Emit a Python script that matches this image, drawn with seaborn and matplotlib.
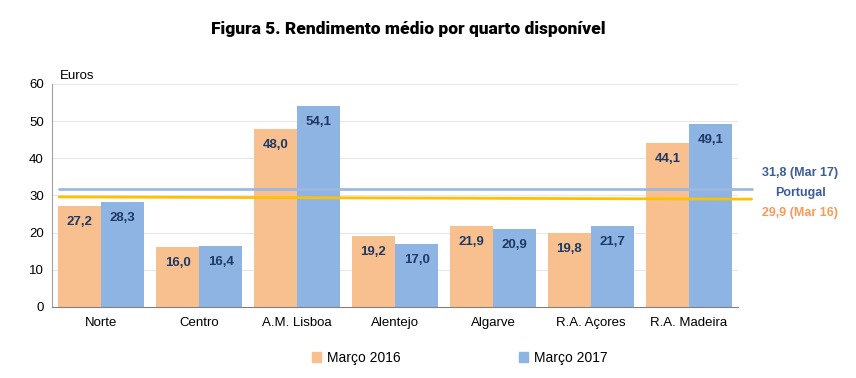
import pandas as pd
import matplotlib
matplotlib.use("Agg")
import matplotlib.pyplot as plt
import seaborn as sns

# dados
regioes = ["Norte", "Centro", "A.M. Lisboa", "Alentejo", "Algarve", "R.A. Açores", "R.A. Madeira"]
marco_2016 = [27.2, 16.0, 48.0, 19.2, 21.9, 19.8, 44.1]
marco_2017 = [28.3, 16.4, 54.1, 17.0, 20.9, 21.7, 49.1]
series = ["Março 2016", "Março 2017"]
portugal_2017 = 31.8
portugal_2016 = [29.6, 29.0]  # linha ligeiramente inclinada no original
yticks = [0, 10, 20, 30, 40, 50, 60]

df = pd.DataFrame({
    "regiao": regioes * 2,
    "serie": [series[0]] * len(regioes) + [series[1]] * len(regioes),
    "valor": marco_2016 + marco_2017,
})

sns.set_style("white")
plt.rcParams["font.family"] = ["Liberation Sans", "DejaVu Sans"]
plt.rcParams["text.color"] = "black"
plt.rcParams["xtick.color"] = "black"
plt.rcParams["ytick.color"] = "black"

cor_laranja = "#F9C08F"
cor_azul = "#8EB4E3"
cor_texto = "#1F3864"

fig = plt.figure(figsize=(8.56, 3.78), dpi=100)
ax = fig.add_axes([0.061, 0.188, 0.801, 0.590])

sns.barplot(data=df, x="regiao", y="valor", hue="serie", palette=[cor_laranja, cor_azul],
            width=0.88, gap=0, ax=ax, legend=False, saturation=1, linewidth=0, edgecolor="none")

for cont in ax.containers:
    for bar in cont:
        h = bar.get_height()
        ax.text(bar.get_x() + bar.get_width() / 2, h - 4.3, f"{h:.1f}".replace(".", ","),
                ha="center", va="center", fontsize=9.5, fontweight="bold", color=cor_texto)

ax.set_ylim(0, 60)
ax.set_xlim(-0.5, len(regioes) - 0.5)
ax.set_yticks(yticks)
ax.yaxis.grid(True, color="#E8E8E8", linewidth=0.8)
ax.set_axisbelow(True)
for s in ["top", "right"]:
    ax.spines[s].set_visible(False)
ax.spines["left"].set_color("#A0A0A0")
ax.spines["bottom"].set_color("#808080")
ax.tick_params(axis="y", length=3, color="#A0A0A0", labelsize=9.5, pad=3)
ax.tick_params(axis="x", length=0, labelsize=9.5, pad=7)
ax.set_xlabel("")
ax.set_ylabel("")

# linhas de Portugal (estendem para fora da área)
x0, x1 = -0.43, len(regioes) - 0.5 + 0.14
ax.plot([x0, x1], [portugal_2017, portugal_2017], color="#9DB9E0", linewidth=2, clip_on=False, zorder=3)
ax.plot([x0, x1], portugal_2016, color="#FFC000", linewidth=2, clip_on=False, zorder=3)

fig.text(0.070, 0.790, "Euros", fontsize=9.5)
fig.text(0.935, 0.543, "31,8 (Mar 17)", fontsize=9, fontweight="bold", color="#3B5E9A", ha="center", va="center")
fig.text(0.935, 0.489, "Portugal", fontsize=9, fontweight="bold", color="#3B5E9A", ha="center", va="center")
fig.text(0.935, 0.436, "29,9 (Mar 16)", fontsize=9, fontweight="bold", color="#F79A5A", ha="center", va="center")

fig.text(0.477, 0.922, "Figura 5. Rendimento médio por quarto disponível", fontsize=12.5,
         fontweight="heavy", ha="center", va="center", family=["Roboto", "DejaVu Sans"])

handles = [plt.Rectangle((0, 0), 1, 1, color=cor_laranja), plt.Rectangle((0, 0), 1, 1, color=cor_azul)]
fig.legend(handles, series, loc="center", bbox_to_anchor=(0.537, 0.053), ncol=2, frameon=False,
           fontsize=10, handlelength=0.7, handleheight=0.7, handletextpad=0.4, columnspacing=8.5)

fig.savefig("out.png", dpi=100)
